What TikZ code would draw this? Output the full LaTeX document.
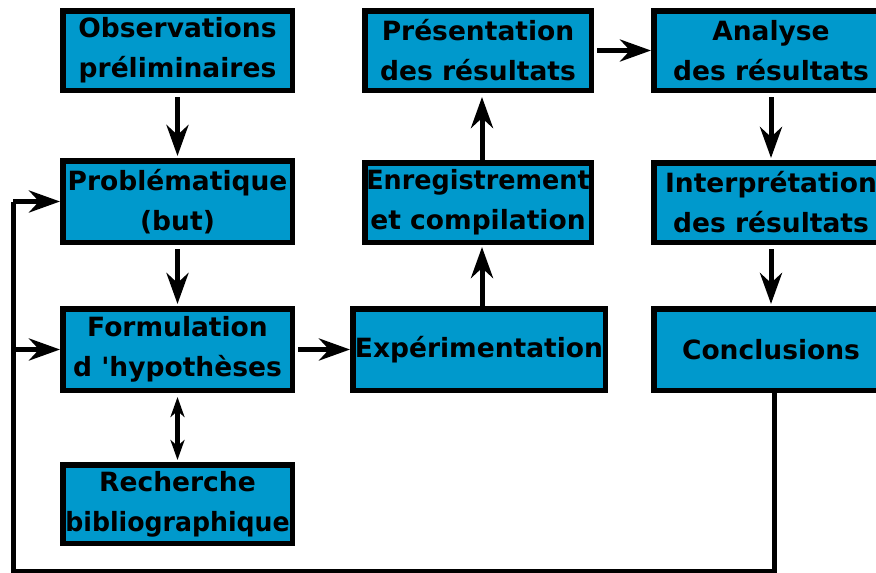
\documentclass[tikz,border=0pt]{standalone}
\usepackage{fontspec}
\setmainfont{DejaVu Sans}[Ligatures=TeXOff]
\usetikzlibrary{arrows.meta}
\definecolor{boxblue}{RGB}{0,153,204}
\newcommand\squeezetxt[2]{\scalebox{#1}[1]{#2}}
\begin{document}
\begin{tikzpicture}[x=1pt,y=-1pt,
  box/.style={draw=black, line width=5.5pt, fill=boxblue, inner sep=0pt,
    align=center, text=black, font=\bfseries\fontsize{26.5}{40}\selectfont},
  conn/.style={line width=5pt, -{Stealth[length=31pt,width=22pt,inset=10pt]}},
  small/.style={line width=5pt, {Stealth[length=20pt,width=14pt,inset=6pt]}-{Stealth[length=20pt,width=14pt,inset=6pt]}},
  fb/.style={line width=5pt},
]
\useasboundingbox (0,0) rectangle (876,573);
\clip (0,0) rectangle (876,573);
\node[box, minimum width=229.5pt, minimum height=79.5pt] (obs) at (177.5,50.5) {Observations\\préliminaires};
\node[box, minimum width=229.5pt, minimum height=81.5pt] (prob) at (177.5,201.5) {Problématique\\(but)};
\node[box, minimum width=229.5pt, minimum height=81.5pt] (form) at (177.5,349.5) {Formulation\\d 'hypothèses};
\node[box, minimum width=229.5pt, minimum height=78.5pt] (rech) at (177.5,504) {Recherche\\\squeezetxt{0.95}{bibliographique}};
\node[box, minimum width=226.5pt, minimum height=79.5pt] (pres) at (478,50.5) {Présentation\\des résultats};
\node[box, minimum width=226.5pt, minimum height=79.5pt] (enr) at (478,202.5) {\squeezetxt{0.96}{Enregistrement}\\et compilation};
\node[box, minimum width=252.5pt, minimum height=81.5pt] (exp) at (479,349.5) {Expérimentation};
\node[box, minimum width=234.5pt, minimum height=79.5pt] (ana) at (771,50.5) {Analyse\\des résultats};
\node[box, minimum width=234.5pt, minimum height=79.5pt] (int) at (771,202.5) {Interprétation\\des résultats};
\node[box, minimum width=234.5pt, minimum height=81.5pt] (conc) at (771,349.5) {Conclusions};
\coordinate (c2) at (13,571);
\coordinate (c3) at (13,201.5);
\coordinate (c4) at (13,349.5);

\draw[conn, shorten <=4pt, shorten >=2pt] (obs) -- (prob);
\draw[conn, shorten <=4pt, shorten >=2pt] (prob) -- (form);
\draw[small, shorten <=4pt, shorten >=2pt] (form) -- (rech);
\draw[conn, shorten <=3pt] (form) -- (exp);
\draw[conn, shorten >=2pt] ([xshift=4pt]enr.south |- exp.north) -- ([xshift=4pt]enr.south);
\draw[conn, shorten >=4pt] ([xshift=4pt]enr.north) -- ([xshift=4pt]pres.south);
\draw[conn, shorten <=3pt] (pres) -- (ana);
\draw[conn, shorten <=4pt, shorten >=2pt] (ana) -- (int);
\draw[conn, shorten <=4pt, shorten >=2pt] (int) -- (conc);
\draw[fb] ([xshift=3pt]conc.south) |- (c2) -- (c3);
\draw[conn] (c3) -- (prob.west);
\draw[conn] (c4) -- (form.west);
\end{tikzpicture}
\end{document}
